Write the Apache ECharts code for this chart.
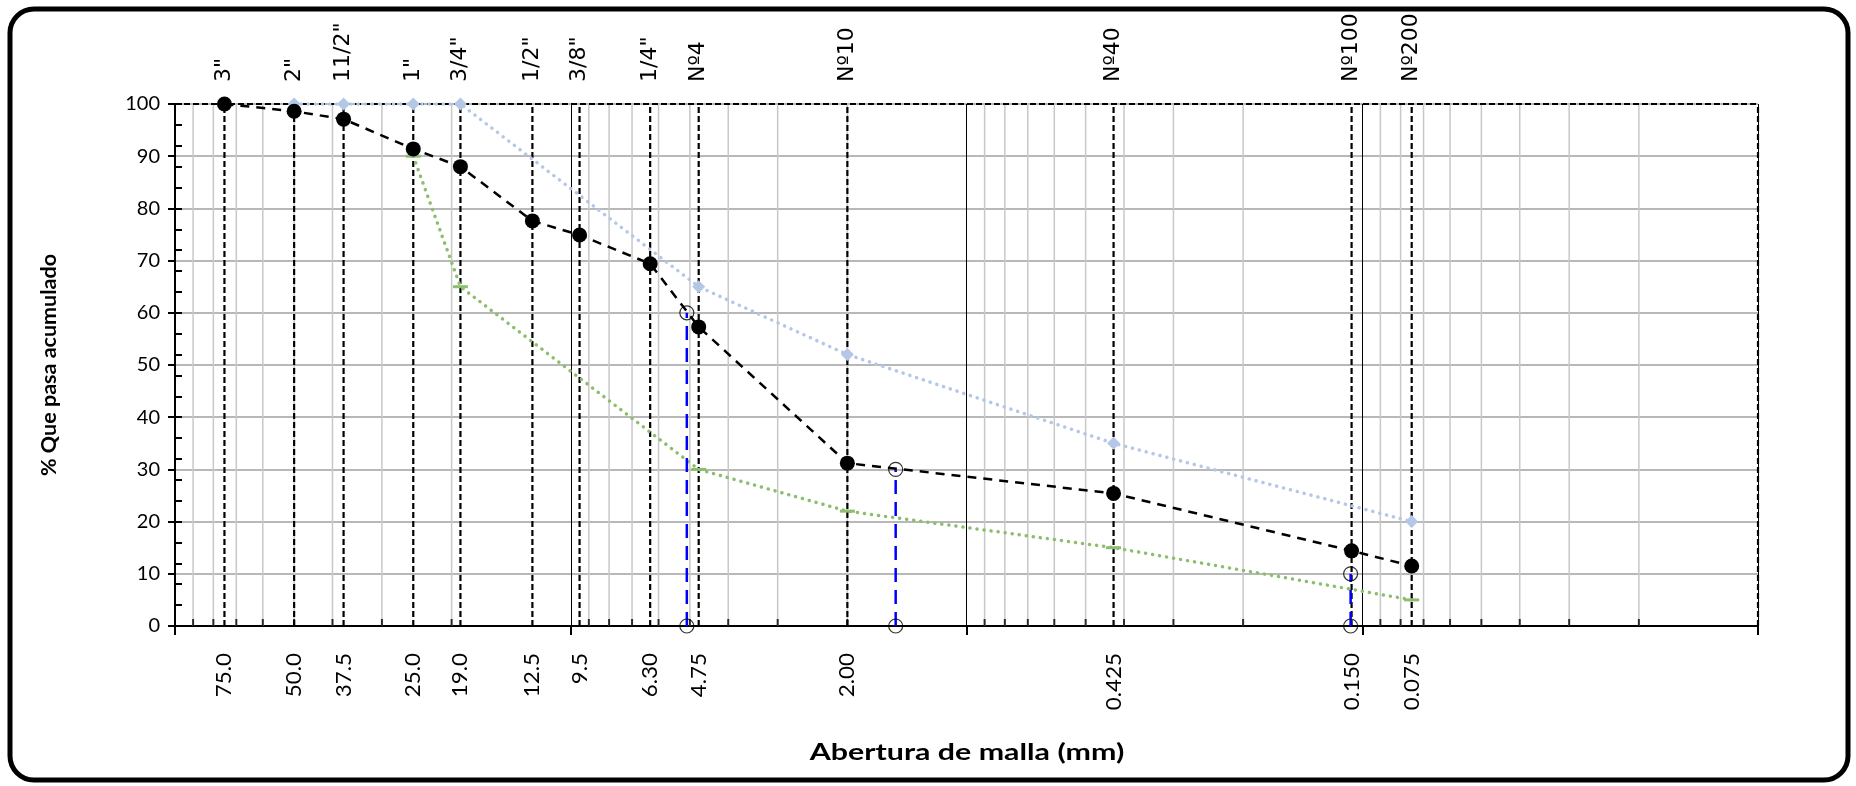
<!DOCTYPE html>
<html><head><meta charset="utf-8">
<script src="https://cdn.jsdelivr.net/npm/echarts@6/dist/echarts.min.js"></script>
<style>html,body{margin:0;padding:0;background:#fff}#c{width:1856px;height:786px}</style>
</head><body><div id="c"></div>
<script>
// ---- data ----
const sieveNames = ['3"', '2"', '11/2"', '1"', '3/4"', '1/2"', '3/8"', '1/4"', 'Nº4', 'Nº10', 'Nº40', 'Nº100', 'Nº200'];
const sieveSizeLabels = ['75.0', '50.0', '37.5', '25.0', '19.0', '12.5', '9.5', '6.30', '4.75', '2.00', '0.425', '0.150', '0.075'];
const sievePositions = [75, 50, 37.5, 25, 19, 12.5, 9.5, 6.3, 4.75, 2.0, 0.425, 0.1064, 0.075];
const passing = [100, 98.6, 97.1, 91.4, 88.0, 77.6, 74.9, 69.4, 57.3, 31.2, 25.4, 14.4, 11.5];
const upperX = [50, 37.5, 25, 19, 4.75, 2.0, 0.425, 0.075];
const upperY = [100, 100, 100, 100, 65, 52, 35, 20];
const lowerX = [25, 19, 4.75, 2.0, 0.425, 0.075];
const lowerY = [90, 65, 30, 22, 15, 5];
const dX = [5.09, 1.51, 0.107];   // D60, D30, D10
const dY = [60, 30, 10];
const decadeStarts = [0.01, 0.1, 1, 10];
const minorMultipliers = [2, 3, 4, 5, 6, 7, 8, 9];
const xMin = 0.01, xMax = 100;

// ---- helpers ----
const zip = (xs, ys) => xs.map((x, i) => [x, ys[i]]);
const minorValues = [];
decadeStarts.forEach(d => minorMultipliers.forEach(m => minorValues.push(+(d * m).toPrecision(3))));

function segmentSeries(segs, style, z) {
  return {
    type: 'custom', silent: true, z: z, clip: false,
    encode: { x: [0, 2], y: [1, 3] },
    data: segs,
    renderItem: (params, api) => {
      const a = api.coord([api.value(0), api.value(1)]);
      const b = api.coord([api.value(2), api.value(3)]);
      return { type: 'line', shape: { x1: a[0], y1: a[1], x2: b[0], y2: b[1] }, style: style };
    }
  };
}
function textSeries(xs, y, texts, opt) {
  return {
    type: 'custom', silent: true, z: 9, clip: false,
    data: xs.map((x, i) => [x, y, i]),
    renderItem: (params, api) => {
      const p = api.coord([api.value(0), api.value(1)]);
      return {
        type: 'text', x: p[0], y: p[1] + opt.dy, rotation: Math.PI / 2, scaleX: opt.scale,
        style: { text: texts[api.value(2)], font: opt.font, fill: '#000', align: opt.align, verticalAlign: 'middle' }
      };
    }
  };
}

const chart = echarts.init(document.getElementById('c'));
const calibri = 'Lato, "Open Sans", sans-serif';

const option = {
  animation: false,
  backgroundColor: '#fff',
  graphic: [{
    type: 'rect', silent: true, z: 100,
    shape: { x: 10, y: 9, width: 1838, height: 771, r: 24 },
    style: { fill: 'none', stroke: '#000', lineWidth: 5 }
  }, {
    type: 'text', silent: true, z: 100, x: 967, y: 753, scaleX: 1.38,
    style: { text: 'Abertura de malla (mm)', font: 'bold 22px Lato', fill: '#000', align: 'center', verticalAlign: 'middle' }
  }],
  grid: { left: 175, right: 98, top: 104, bottom: 160, containLabel: false },
  xAxis: {
    type: 'log', logBase: 10, min: xMin, max: xMax, inverse: true,
    axisLine: { show: true, onZero: false, lineStyle: { color: '#000', width: 2 } },
    axisTick: { show: true, length: 9, lineStyle: { color: '#000', width: 2 } },
    axisLabel: { show: false },
    splitLine: { show: true, lineStyle: { color: '#000', width: 1 } },
    minorTick: { show: false }, minorSplitLine: { show: false }
  },
  yAxis: [{
    type: 'value', min: 0, max: 100, interval: 10,
    name: '% Que pasa acumulado', nameLocation: 'middle', nameGap: 126,
    nameTextStyle: { fontFamily: calibri, fontWeight: 'bold', fontSize: 21.5, color: '#000', verticalAlign: 'middle' },
    axisLine: { show: true, lineStyle: { color: '#000', width: 2 } },
    axisTick: { show: true, length: 7, lineStyle: { color: '#000', width: 2 } },
    axisLabel: { fontFamily: calibri, fontSize: 20, color: '#000', margin: 15 },
    splitLine: { show: true, lineStyle: { color: '#a0a0a0', width: 1.5 } }
  }, {
    type: 'value', min: 0, max: 100, interval: 4, position: 'left',
    axisLine: { show: false }, axisLabel: { show: false }, splitLine: { show: false },
    axisTick: { show: true, inside: true, length: 7, lineStyle: { color: '#000', width: 2 } }
  }],
  series: [
    // minor vertical grid lines
    segmentSeries(minorValues.map(v => [v, 0, v, 100]), { stroke: '#c8c8c8', lineWidth: 1.5 }, 1),
    { // minor x ticks (inside)
      type: 'scatter', silent: true, z: 3,
      symbol: 'rect', symbolSize: [2, 7], symbolOffset: [0, -3.5],
      itemStyle: { color: '#000' },
      data: minorValues.map(v => [v, 0])
    },
    // sieve dashed lines + dashed top/right border
    segmentSeries(sievePositions.map(v => [v, 0, v, 100]).concat([[xMax, 100, xMin, 100], [xMin, 0, xMin, 100]]),
      { stroke: '#000', lineWidth: 2.2, lineDash: [6, 3] }, 4),
    // sieve names (top) and sizes (bottom)
    textSeries(sievePositions, 100, sieveNames, { dy: -22, scale: 1.0, align: 'left', font: '22px "DejaVu Sans"' }),
    textSeries(sievePositions, 0, sieveSizeLabels, { dy: 27, scale: 1.04, align: 'right', font: '21.5px Lato' }),
    { // upper limit
      name: 'Límite superior', type: 'line', z: 5,
      data: zip(upperX, upperY),
      symbol: 'diamond', symbolSize: 13,
      itemStyle: { color: '#b4c7e7' },
      lineStyle: { color: '#b4c7e7', width: 3.5, type: [0.1, 7], cap: 'round' }
    },
    { // lower limit
      name: 'Límite inferior', type: 'line', z: 5,
      data: zip(lowerX, lowerY),
      symbol: 'rect', symbolSize: [15, 3],
      itemStyle: { color: '#8dbe6e' },
      lineStyle: { color: '#8dbe6e', width: 3.5, type: [0.1, 7], cap: 'round' }
    },
    // D60/D30/D10 guide lines
    segmentSeries(dX.map((x, i) => [x, 0, x, dY[i]]), { stroke: '#0000ff', lineWidth: 2.5, lineDash: [14, 8] }, 6),
    { // open circles
      type: 'scatter', z: 6, silent: true,
      symbol: 'circle', symbolSize: 14,
      itemStyle: { color: 'rgba(255,255,255,0)', borderColor: '#000', borderWidth: 1.2 },
      data: dX.map((x, i) => [x, dY[i]]).concat(dX.map(x => [x, 0]))
    },
    { // measured curve
      name: 'Muestra', type: 'line', z: 7,
      data: zip(sievePositions, passing),
      symbol: 'circle', symbolSize: 15,
      itemStyle: { color: '#000' },
      lineStyle: { color: '#000', width: 2.5, type: [9, 7] }
    }
  ]
};
chart.setOption(option);
</script>
</body></html>
